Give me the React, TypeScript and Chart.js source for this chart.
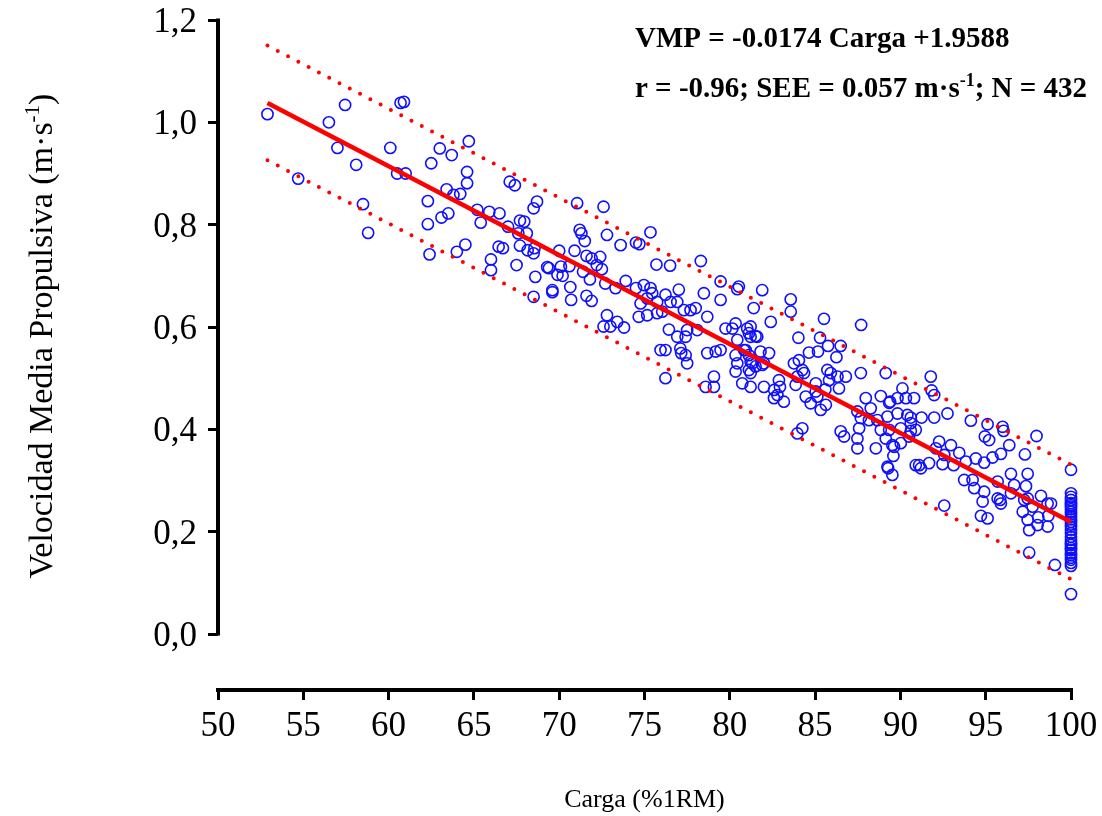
import React, { useEffect, useRef } from 'react';
import { Chart, registerables } from 'chart.js';

Chart.register(...registerables);

// ---- Data ----
const carga: number[] = [
  52.9, 54.7, 56.5, 57.0, 57.45, 58.1, 58.5, 58.8, 60.1, 60.5, 60.7, 60.9, 61.0, 62.3, 62.3, 62.4, 62.5, 63.0, 63.1, 63.4, 63.5, 63.7, 63.8, 64.0, 64.2, 64.5, 64.6, 64.6, 64.7,
  65.2, 65.4, 65.9, 66.0, 66.0, 66.45, 66.5, 66.7, 67.0, 67.1, 67.4, 67.5, 67.6, 67.7, 67.7, 67.95, 68.1, 68.15, 68.5, 68.5, 68.55, 68.6, 68.5, 68.7, 69.3, 69.4, 69.6, 69.6, 69.9, 70.0,
  70.1, 70.2, 70.6, 70.65, 70.7, 70.9, 71.05, 71.2, 71.3, 71.4, 71.5, 71.6, 71.6, 71.8, 71.9, 71.9, 72.2, 72.4, 72.5, 72.6, 72.6, 72.7, 72.8, 72.8, 73.0, 73.3, 73.4, 73.6, 73.8, 73.9,
  74.5, 74.5, 74.66, 74.7, 74.77, 74.96, 75.16, 75.16, 75.35, 75.35, 75.45, 75.7, 75.74, 75.74, 75.94, 76.04, 76.23, 76.23, 76.23, 76.43, 76.5, 76.53, 76.92, 76.92, 77.01, 77.1, 77.15,
  77.31, 77.41, 77.41, 77.5, 77.5, 77.7, 78.0, 78.09, 78.3, 78.48, 78.58, 78.68, 78.68, 79.07, 79.07, 79.17, 79.46, 79.46, 79.46, 79.75, 80.15, 80.34, 80.34, 80.34, 80.44, 80.44, 80.44,
  80.53, 80.73, 80.83, 80.93, 81.02, 81.12, 81.12, 81.12, 81.22, 81.22, 81.22, 81.22, 81.22, 81.32, 81.4, 81.51, 81.51, 81.61, 81.8, 81.9, 81.9, 82.0, 82.0, 82.3, 82.4, 82.59, 82.6, 82.79,
  82.88, 82.94,
  83.17, 83.57, 83.57, 83.76, 83.86, 83.96, 83.96, 84.02, 84.05, 84.25, 84.25, 84.35, 84.45, 84.64, 84.74, 85.04, 85.04, 85.13, 85.17, 85.29, 85.33, 85.52, 85.6, 85.63, 85.72, 85.76,
  85.82, 85.92, 86.25, 86.31, 86.4, 86.5, 86.5, 86.7, 86.8, 87.48, 87.48, 87.48, 87.58, 87.68, 87.68, 87.7, 87.97, 88.16, 88.26, 88.56, 88.65, 88.85, 88.85, 89.14, 89.14, 89.24, 89.24,
  89.28, 89.34, 89.34, 89.4, 89.53, 89.53, 89.59, 89.63, 89.83, 89.83, 90.02, 90.02, 90.12, 90.32, 90.41, 90.51, 90.61, 90.61, 90.61, 90.8, 90.9, 90.9,
  91.1, 91.2, 91.24, 91.68, 91.78, 91.83, 91.98, 91.98, 92.08, 92.27, 92.47, 92.57, 92.57, 92.76, 92.96, 93.12, 93.45, 93.74, 93.84, 94.13, 94.23, 94.33, 94.42, 94.72, 94.82, 94.91, 94.91,
  94.95, 95.11, 95.11, 95.2, 95.4, 95.7, 95.7, 95.85, 95.89, 95.89, 95.99, 96.05, 96.38, 96.48, 96.48, 96.67, 97.17, 97.26, 97.3, 97.36, 97.46, 97.46, 97.46, 97.55, 97.55, 97.75, 97.98,
  98.04, 98.08, 98.24, 98.63, 98.63, 98.67, 98.83, 99.06,
  100, 100, 100, 100, 100, 100, 100, 100, 100, 100, 100, 100, 100, 100, 100, 100, 100, 100, 100, 100, 100, 100, 100, 100, 100, 100, 100, 100, 100, 100,
];

const vmp: number[] = [
  1.016, 0.890, 1.000, 0.950, 1.034, 0.917, 0.840, 0.784, 0.950, 0.900, 1.038, 1.040, 0.900, 0.846, 0.801, 0.742, 0.920, 0.949, 0.814, 0.869, 0.822, 0.936, 0.858, 0.747, 0.860, 0.761, 0.881, 0.903, 0.963,
  0.829, 0.804, 0.825, 0.732, 0.711, 0.757, 0.822, 0.754, 0.796, 0.884, 0.877, 0.721, 0.783, 0.808, 0.759, 0.806, 0.783, 0.750, 0.832, 0.744, 0.754, 0.698, 0.659, 0.845, 0.717, 0.715, 0.672, 0.668, 0.702, 0.749,
  0.718, 0.700, 0.719, 0.678, 0.653, 0.749, 0.842, 0.790, 0.783, 0.708, 0.768, 0.739, 0.661, 0.693, 0.734, 0.651, 0.721, 0.737, 0.713, 0.835, 0.601, 0.685, 0.780, 0.623, 0.601, 0.676, 0.610, 0.760, 0.599, 0.690,
  0.676, 0.765, 0.620, 0.762, 0.646, 0.682, 0.656, 0.623, 0.676, 0.785, 0.666, 0.722, 0.649, 0.627, 0.555, 0.630, 0.663, 0.555, 0.500, 0.595, 0.720, 0.649, 0.649, 0.581, 0.673, 0.558, 0.549,
  0.633, 0.581, 0.545, 0.594, 0.529, 0.633, 0.637, 0.594, 0.729, 0.666, 0.483, 0.620, 0.549, 0.503, 0.483, 0.552, 0.653, 0.689, 0.555, 0.597, 0.597, 0.607, 0.545, 0.513, 0.674, 0.575, 0.529,
  0.679, 0.490, 0.555, 0.555, 0.597, 0.545, 0.588, 0.516, 0.581, 0.510, 0.483, 0.601, 0.532, 0.529, 0.637, 0.523, 0.582, 0.581, 0.552, 0.672, 0.526, 0.483, 0.529, 0.549, 0.610, 0.461, 0.477, 0.467,
  0.496, 0.483,
  0.454, 0.654, 0.630, 0.529, 0.487, 0.503, 0.392, 0.579, 0.535, 0.516, 0.402, 0.510, 0.464, 0.550, 0.451, 0.490, 0.474, 0.464, 0.552, 0.579, 0.438, 0.616, 0.478, 0.448, 0.516, 0.563,
  0.496, 0.510, 0.541, 0.503, 0.480, 0.563, 0.396, 0.386, 0.503, 0.435, 0.382, 0.363, 0.402, 0.510, 0.422, 0.604, 0.461, 0.418, 0.441, 0.363, 0.418, 0.465, 0.399, 0.510, 0.382, 0.425, 0.327,
  0.324, 0.452, 0.399, 0.454, 0.369, 0.311, 0.348, 0.366, 0.461, 0.431, 0.402, 0.373, 0.480, 0.461, 0.428, 0.386, 0.412, 0.423, 0.397, 0.461, 0.330, 0.399,
  0.330, 0.324, 0.423, 0.334, 0.503, 0.476, 0.467, 0.423, 0.363, 0.376, 0.332, 0.350, 0.251, 0.431, 0.369, 0.330, 0.354, 0.301, 0.337, 0.417, 0.301, 0.285, 0.343, 0.231, 0.259, 0.335, 0.278,
  0.386, 0.410, 0.226, 0.379, 0.345, 0.298, 0.265, 0.262, 0.352, 0.255, 0.405, 0.397, 0.369, 0.313, 0.275, 0.291, 0.239, 0.262, 0.351, 0.289, 0.313, 0.265, 0.223, 0.203, 0.159, 0.249, 0.387,
  0.213, 0.228, 0.270, 0.255, 0.210, 0.231, 0.255, 0.135,
  0.321, 0.275, 0.268, 0.262, 0.256, 0.252, 0.249, 0.244, 0.239, 0.234, 0.229, 0.224, 0.219, 0.214, 0.210, 0.204, 0.197, 0.190, 0.184, 0.178, 0.174, 0.168, 0.164, 0.158, 0.154, 0.149, 0.145, 0.139, 0.133, 0.078,
];

const fitX: number[] = [52.9, 100];
const fitY: number[] = [1.038, 0.219];
const upperY: number[] = [1.150, 0.331];
const lowerY: number[] = [0.926, 0.107];

const xTickMin = 50;
const xTickMax = 100;
const xTickStep = 5;
const yTicks: number[] = [0, 0.2, 0.4, 0.6, 0.8, 1.0, 1.2];

const xTitle = 'Carga (%1RM)';
const yTitleParts: string[] = ['Velocidad Media Propulsiva (m·s', '-1', ')'];
const equationText = 'VMP = -0.0174 Carga +1.9588';
const statsParts: string[] = ['r = -0.96; SEE = 0.057 m·s', '-1', '; N = 432'];

const SERIF = "'Liberation Serif', 'Times New Roman', serif";

function drawSupText(
  ctx: CanvasRenderingContext2D,
  parts: string[],
  x: number,
  y: number,
  mainFont: string,
  supFont: string,
  supRise: number,
  align: 'left' | 'center'
) {
  ctx.font = mainFont;
  const w0 = ctx.measureText(parts[0]).width;
  const w2 = ctx.measureText(parts[2]).width;
  ctx.font = supFont;
  const w1 = ctx.measureText(parts[1]).width;
  const total = w0 + w1 + w2;
  let sx = align === 'center' ? x - total / 2 : x;
  ctx.textAlign = 'left';
  ctx.textBaseline = 'alphabetic';
  ctx.font = mainFont;
  ctx.fillText(parts[0], sx, y);
  sx += w0;
  ctx.font = supFont;
  ctx.fillText(parts[1], sx, y - supRise);
  sx += w1;
  ctx.font = mainFont;
  ctx.fillText(parts[2], sx, y);
}

const decorPlugin = {
  id: 'decor',
  afterDraw(chart: any) {
    const { ctx, chartArea } = chart;
    const y = chart.scales.y;
    const x = chart.scales.x;
    const yTop = y.getPixelForValue(yTicks[yTicks.length - 1]);
    const yBot = y.getPixelForValue(yTicks[0]);
    ctx.save();
    // y axis line, only over the ticked range
    ctx.strokeStyle = '#000';
    ctx.lineWidth = 4;
    ctx.lineCap = 'butt';
    ctx.beginPath();
    ctx.moveTo(chartArea.left, yTop - 1.5);
    ctx.lineTo(chartArea.left, yBot + 1.5);
    ctx.stroke();

    ctx.fillStyle = '#000';

    // y tick labels
    ctx.font = `35px ${SERIF}`;
    ctx.textAlign = 'right';
    ctx.textBaseline = 'alphabetic';
    yTicks.forEach((v) => {
      ctx.fillText(v.toFixed(1).replace('.', ','), chartArea.left - 21, y.getPixelForValue(v) + 12);
    });

    // x tick labels
    ctx.textAlign = 'center';
    x.ticks.forEach((t: any) => {
      ctx.fillText(String(t.value), x.getPixelForValue(t.value), chartArea.bottom + 46);
    });

    // y title
    ctx.save();
    ctx.translate(52, (yTop + yBot) / 2 + 9);
    ctx.rotate(-Math.PI / 2);
    drawSupText(ctx, yTitleParts, 0, 0, `34px ${SERIF}`, `21px ${SERIF}`, 13, 'center');
    ctx.restore();

    // annotation
    ctx.font = `bold 29px ${SERIF}`;
    ctx.textAlign = 'left';
    ctx.textBaseline = 'alphabetic';
    ctx.fillText(equationText, 635, 47);
    drawSupText(ctx, statsParts, 635, 97, `bold 29px ${SERIF}`, `bold 18px ${SERIF}`, 11, 'left');
    ctx.restore();
  },
};

export default function App() {
  const canvasRef = useRef<HTMLCanvasElement | null>(null);

  useEffect(() => {
    const canvas = canvasRef.current;
    if (!canvas) return;
    const points = carga.map((c, i) => ({ x: c, y: vmp[i] }));
    const fitPts = fitX.map((c, i) => ({ x: c, y: fitY[i] }));
    const upPts = fitX.map((c, i) => ({ x: c, y: upperY[i] }));
    const loPts = fitX.map((c, i) => ({ x: c, y: lowerY[i] }));

    const chart = new Chart(canvas, {
      type: 'scatter',
      data: {
        datasets: [
          {
            label: 'fit',
            data: fitPts,
            showLine: true,
            borderColor: '#ff0000',
            borderWidth: 4.5,
            pointRadius: 0,
            clip: false,
            order: 0,
          } as any,
          {
            label: 'upper',
            data: upPts,
            showLine: true,
            borderColor: '#ff0000',
            borderWidth: 4,
            borderDash: [0, 11.6],
            borderCapStyle: 'round',
            pointRadius: 0,
            clip: false,
            order: 1,
          } as any,
          {
            label: 'lower',
            data: loPts,
            showLine: true,
            borderColor: '#ff0000',
            borderWidth: 4,
            borderDash: [0, 11.6],
            borderCapStyle: 'round',
            pointRadius: 0,
            clip: false,
            order: 1,
          } as any,
          {
            label: 'VMP',
            data: points,
            pointStyle: 'circle',
            pointRadius: 5.6,
            pointBorderWidth: 1.6,
            borderColor: '#1010ff',
            pointBorderColor: '#1010ff',
            backgroundColor: 'rgba(0,0,0,0)',
            pointBackgroundColor: 'rgba(0,0,0,0)',
            clip: false,
            order: 2,
          } as any,
        ],
      },
      options: {
        animation: false,
        responsive: false,
        devicePixelRatio: 1,
        layout: { padding: { top: 20, right: 31, left: 0, bottom: 0 } },
        plugins: {
          legend: { display: false },
          tooltip: { enabled: false },
        },
        scales: {
          x: {
            type: 'linear',
            min: xTickMin,
            max: xTickMax,
            ticks: {
              display: false,
              stepSize: xTickStep,
              maxRotation: 0,
              autoSkip: false,
            },
            grid: {
              drawOnChartArea: false,
              drawTicks: true,
              tickLength: 10,
              color: '#000',
              lineWidth: 3,
            },
            border: { display: true, color: '#000', width: 4 },
            title: {
              display: true,
              text: xTitle,
              color: '#000',
              font: { family: SERIF, size: 26 },
              padding: { top: 0, bottom: 0 },
            },
            afterFit: (s: any) => {
              s.height = 126;
            },
          },
          y: {
            type: 'linear',
            min: -0.1094,
            max: 1.2,
            afterBuildTicks: (s: any) => {
              s.ticks = yTicks.map((v) => ({ value: v }));
            },
            ticks: { display: false },
            grid: {
              drawOnChartArea: false,
              drawTicks: true,
              tickLength: 10,
              color: '#000',
              lineWidth: 3,
            },
            border: { display: false },
            afterFit: (s: any) => {
              s.width = 218;
            },
          },
        },
      } as any,
      plugins: [decorPlugin],
    });
    return () => chart.destroy();
  }, []);

  return (
    <div style={{ position: 'fixed', left: 0, top: 0, width: 1102, height: 816, background: '#fff' }}>
      <canvas ref={canvasRef} width={1102} height={816} style={{ display: 'block' }} />
    </div>
  );
}
